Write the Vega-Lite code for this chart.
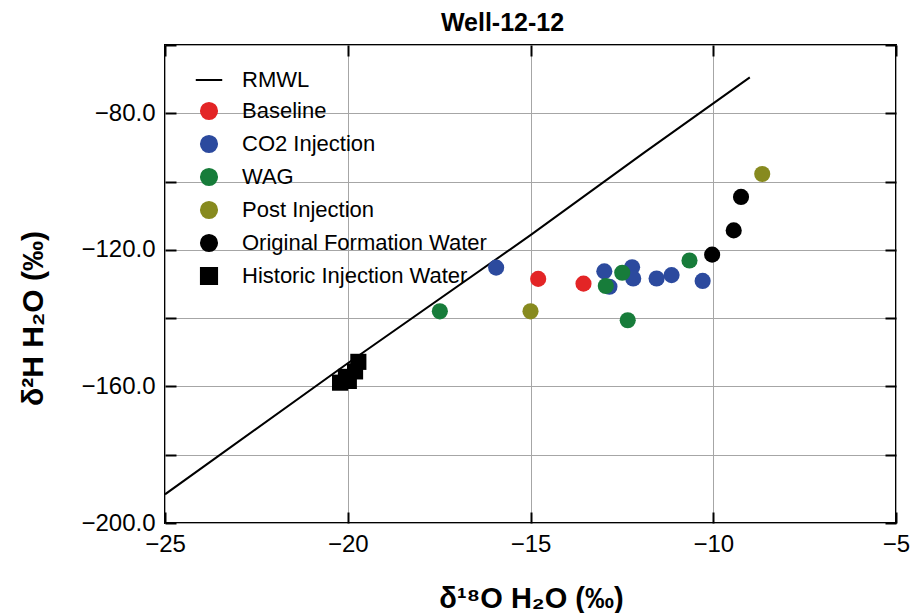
{
  "$schema": "https://vega.github.io/schema/vega-lite/v6.json",
  "width": 731,
  "height": 478,
  "autosize": {"type": "none"},
  "padding": {"left": 165, "top": 45, "right": 15, "bottom": 90},
  "background": "white",
  "config": {
    "font": "Liberation Sans",
    "view": {"stroke": "black", "strokeWidth": 2},
    "axis": {"labelFont": "Liberation Sans", "titleFont": "Liberation Sans", "labelColor": "black", "titleColor": "black"}
  },
  "title": {
    "text": "Well-12-12",
    "fontSize": 25,
    "fontWeight": "bold",
    "font": "Liberation Sans",
    "anchor": "middle",
    "frame": "group",
    "baseline": "alphabetic",
    "offset": 15,
    "dy": 38,
    "dx": -28,
    "color": "black"
  },
  "datasets": {
    "rmwl": [
      {"series": "RMWL", "d18O": -25.0, "d2H": -191.6},
      {"series": "RMWL", "d18O": -20.0, "d2H": -153.2},
      {"series": "RMWL", "d18O": -15.0, "d2H": -115.7},
      {"series": "RMWL", "d18O": -11.9, "d2H": -91.6},
      {"series": "RMWL", "d18O": -9.0, "d2H": -69.5}
    ],
    "pts": [
      {"series": "Baseline", "d18O": -14.79, "d2H": -128.5},
      {"series": "Baseline", "d18O": -13.55, "d2H": -129.9},
      {"series": "CO2 Injection", "d18O": -15.94, "d2H": -125.2},
      {"series": "CO2 Injection", "d18O": -12.98, "d2H": -126.3},
      {"series": "CO2 Injection", "d18O": -12.84, "d2H": -130.8},
      {"series": "CO2 Injection", "d18O": -12.22, "d2H": -125.1},
      {"series": "CO2 Injection", "d18O": -12.19, "d2H": -128.4},
      {"series": "CO2 Injection", "d18O": -11.55, "d2H": -128.4},
      {"series": "CO2 Injection", "d18O": -11.14, "d2H": -127.4},
      {"series": "CO2 Injection", "d18O": -10.29, "d2H": -129.1},
      {"series": "WAG", "d18O": -17.48, "d2H": -138.0},
      {"series": "WAG", "d18O": -12.94, "d2H": -130.6},
      {"series": "WAG", "d18O": -12.49, "d2H": -126.7},
      {"series": "WAG", "d18O": -12.34, "d2H": -140.6},
      {"series": "WAG", "d18O": -10.65, "d2H": -123.1},
      {"series": "Post Injection", "d18O": -15.0, "d2H": -138.0},
      {"series": "Post Injection", "d18O": -8.66, "d2H": -97.8},
      {"series": "Original Formation Water", "d18O": -10.03, "d2H": -121.4},
      {"series": "Original Formation Water", "d18O": -9.44, "d2H": -114.3},
      {"series": "Original Formation Water", "d18O": -9.24, "d2H": -104.5},
      {"series": "Historic Injection Water", "d18O": -19.71, "d2H": -152.8},
      {"series": "Historic Injection Water", "d18O": -19.8, "d2H": -155.6},
      {"series": "Historic Injection Water", "d18O": -19.97, "d2H": -158.4},
      {"series": "Historic Injection Water", "d18O": -20.21, "d2H": -158.9},
      {"series": "Historic Injection Water", "d18O": -20.05, "d2H": -157.2}
    ]
  },
  "resolve": {"axis": {"x": "independent", "y": "independent"}},
  "layer": [
    {
      "data": {"name": "rmwl"},
      "mark": {"type": "line", "strokeWidth": 2, "clip": true},
      "encoding": {
        "x": {
          "field": "d18O", "type": "quantitative",
          "scale": {"domain": [-25, -5], "nice": false, "zero": false},
          "axis": {
            "orient": "bottom",
            "values": [-25, -20, -15, -10, -5],
            "format": "d",
            "labelFontSize": 24,
            "labelFlush": false,
            "labelOverlap": false,
            "labelPadding": 20,
            "tickSize": -11,
            "tickWidth": 2,
            "tickColor": "black",
            "domain": false,
            "grid": true,
            "gridColor": "#a6a6a6",
            "gridWidth": 1,
            "title": "δ¹⁸O H₂O (‰)",
            "titleFontSize": 29,
            "titleFontWeight": "bold",
            "titleX": 366,
            "titleY": 75,
            "titleBaseline": "middle",
            "titleAlign": "center"
          }
        },
        "y": {
          "field": "d2H", "type": "quantitative",
          "scale": {"domain": [-200, -60], "nice": false, "zero": false},
          "axis": {
            "orient": "left",
            "values": [-200, -180, -160, -140, -120, -100, -80, -60],
            "labelExpr": "datum.value % 40 === 0 ? format(datum.value, '.1f') : ''",
            "labelFontSize": 24,
            "labelOverlap": false,
            "labelFlush": false,
            "labelPadding": 21,
            "tickSize": -11,
            "tickWidth": 2,
            "tickColor": "black",
            "domain": false,
            "grid": true,
            "gridColor": "#a6a6a6",
            "gridWidth": 1,
            "title": "δ²H H₂O (‰)",
            "titleFontSize": 30,
            "titleFontWeight": "bold",
            "titleAngle": -90,
            "titleX": -132,
            "titleY": 273,
            "titleBaseline": "middle",
            "titleAlign": "center"
          }
        },
        "color": {
          "field": "series", "type": "nominal",
          "scale": {
            "domain": ["RMWL", "Baseline", "CO2 Injection", "WAG", "Post Injection", "Original Formation Water", "Historic Injection Water"],
            "range": ["#000000", "#e32526", "#2c4a9e", "#177c3a", "#878a1f", "#000000", "#000000"]
          },
          "legend": {
            "title": null,
            "orient": "none",
            "legendX": 33,
            "legendY": 24,
            "padding": 0,
            "labelFontSize": 22,
            "labelFont": "Liberation Sans",
            "labelColor": "black",
            "labelLimit": 0,
            "labelOffset": 22,
            "symbolSize": 260,
            "rowPadding": 7,
            "encode": {
              "symbols": {
                "update": {
                  "size": {"signal": "datum.value === 'RMWL' ? 700 : 260"},
                  "stroke": {"signal": "datum.value === 'RMWL' ? 'black' : 'transparent'"},
                  "strokeWidth": {"value": 2},
                  "opacity": {"value": 1}
                }
              }
            }
          }
        }
      }
    },
    {
      "data": {"name": "pts"},
      "mark": {"type": "point", "filled": true, "opacity": 1},
      "encoding": {
        "x": {
          "field": "d18O", "type": "quantitative",
          "axis": {
            "orient": "top",
            "values": [-25, -20, -15, -10, -5],
            "labels": false,
            "tickSize": -11,
            "tickWidth": 2,
            "tickColor": "black",
            "domain": false,
            "grid": false,
            "title": null
          }
        },
        "y": {
          "field": "d2H", "type": "quantitative",
          "axis": {
            "orient": "right",
            "values": [-200, -180, -160, -140, -120, -100, -80, -60],
            "labels": false,
            "tickSize": -11,
            "tickWidth": 2,
            "tickColor": "black",
            "domain": false,
            "grid": false,
            "title": null
          }
        },
        "color": {"field": "series", "type": "nominal"},
        "shape": {
          "field": "series", "type": "nominal",
          "scale": {
            "domain": ["RMWL", "Baseline", "CO2 Injection", "WAG", "Post Injection", "Original Formation Water", "Historic Injection Water"],
            "range": ["stroke", "circle", "circle", "circle", "circle", "circle", "square"]
          },
          "legend": null
        },
        "size": {"value": 260}
      }
    }
  ]
}
